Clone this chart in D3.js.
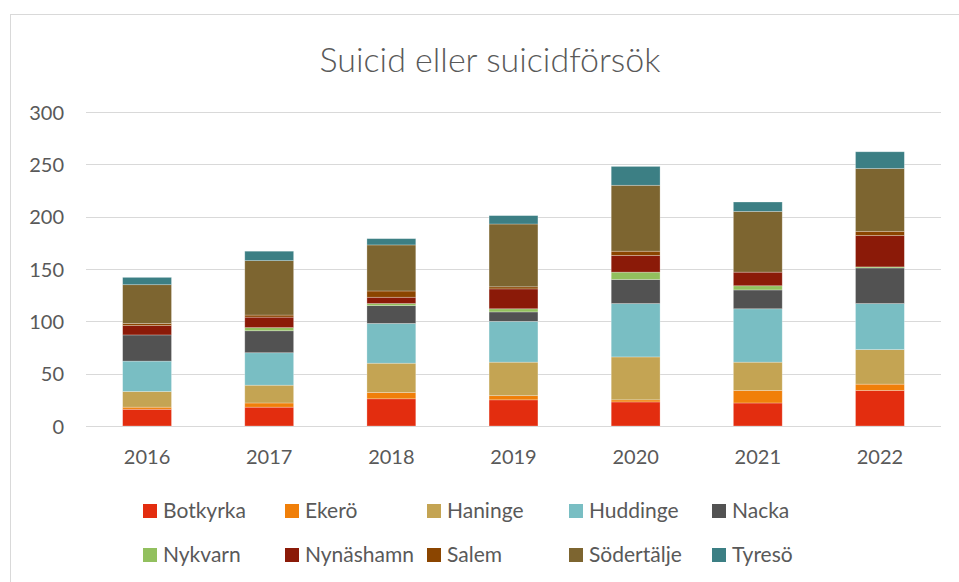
<!DOCTYPE html>
<html><head><meta charset="utf-8">
<script src="https://cdn.jsdelivr.net/npm/d3@7/dist/d3.min.js"></script>
<style>body{margin:0;background:#fff}svg{display:block}text{font-family:Lato,"Open Sans",sans-serif;fill:#595959}</style>
</head><body><svg id="c" width="959" height="582"></svg>
<script>
const years = ["2016","2017","2018","2019","2020","2021","2022"];
const seriesNames = ["Botkyrka","Ekerö","Haninge","Huddinge","Nacka","Nykvarn","Nynäshamn","Salem","Södertälje","Tyresö"];
const colors = ["#E32D0F","#F07F09","#C4A453","#79BEC3","#525252","#92C05E","#8B1A08","#8B4500","#7D6530","#3C7F84"];
const botkyrka   = [16,18,26,25,23,22,34];
const ekero      = [2,4,6,4,2,12,6];
const haninge    = [15,17,28,32,41,27,33];
const huddinge   = [29,31,38,39,51,51,44];
const nacka      = [25,21,17,9,23,18,34];
const nykvarn    = [0,3,2,3,7,4,1];
const nynashamn  = [9,10,6,19,16,13,30];
const salem      = [2,2,6,2,4,0,4];
const sodertalje = [37,52,44,60,63,58,60];
const tyreso     = [7,9,6,8,18,9,16];
const yTicks = [0,50,100,150,200,250,300];

const seriesValues = [botkyrka,ekero,haninge,huddinge,nacka,nykvarn,nynashamn,salem,sodertalje,tyreso];
const rows = years.map((y,i)=>{const r={year:y};seriesNames.forEach((s,j)=>r[s]=seriesValues[j][i]);return r;});
const stacked = d3.stack().keys(seriesNames)(rows);

const svg = d3.select("#c");
svg.append("rect").attr("x",10.5).attr("y",14.5).attr("width",960).attr("height",580)
  .attr("fill","#fff").attr("stroke","#D9D9D9");

const x = d3.scaleBand().domain(years).range([86,941]).paddingInner(0.6).paddingOuter(0.3);
const y = d3.scaleLinear().domain([0,300]).range([426,112]);

// gridlines
svg.append("g").selectAll("line").data(yTicks).join("line")
  .attr("x1",86).attr("x2",941).attr("y1",d=>Math.round(y(d))+0.5).attr("y2",d=>Math.round(y(d))+0.5)
  .attr("stroke","#D9D9D9").attr("stroke-width",1);

// y axis labels
const yAxis = d3.axisLeft(y).tickValues(yTicks).tickSize(0).tickPadding(0);
const gy = svg.append("g").attr("transform","translate(64,0)").call(yAxis);
gy.select(".domain").remove();
gy.selectAll("text").style("font-size","20px").attr("fill","#595959").attr("dy","0.35em");

// x axis labels
const xAxis = d3.axisBottom(x).tickSize(0).tickPadding(0);
const gx = svg.append("g").attr("transform","translate(0,457)").call(xAxis);
gx.select(".domain").remove();
gx.selectAll("text").style("font-size","20px").attr("fill","#595959").attr("dy","0.35em");

// bars
svg.append("g").selectAll("g").data(stacked).join("g")
  .attr("fill",(d,i)=>colors[i])
  .selectAll("rect").data(d=>d).join("rect")
  .attr("x",d=>x(d.data.year)).attr("width",x.bandwidth())
  .attr("y",d=>y(d[1])).attr("height",d=>y(d[0])-y(d[1]))
  .attr("stroke","#fff").attr("stroke-opacity",0.35).attr("stroke-width",0.75);

// baseline
svg.append("line").attr("x1",86).attr("x2",941).attr("y1",426.5).attr("y2",426.5).attr("stroke","#D9D9D9");

// title
svg.append("text").attr("x",490).attr("y",72).attr("text-anchor","middle")
  .style("font-size","34px").style("font-weight","300").text("Suicid eller suicidförsök");

// legend
const legX = [143,285,427,569,712];
const leg = svg.append("g");
seriesNames.forEach((s,i)=>{
  const col = i%5, row = Math.floor(i/5);
  const gx0 = legX[col], gy0 = row===0?511:555;
  leg.append("rect").attr("x",gx0).attr("y",gy0-7).attr("width",14).attr("height",14).attr("fill",colors[i]);
  leg.append("text").attr("x",gx0+20).attr("y",gy0).attr("dy","0.35em").style("font-size","21px").text(s);
});
</script></body></html>
